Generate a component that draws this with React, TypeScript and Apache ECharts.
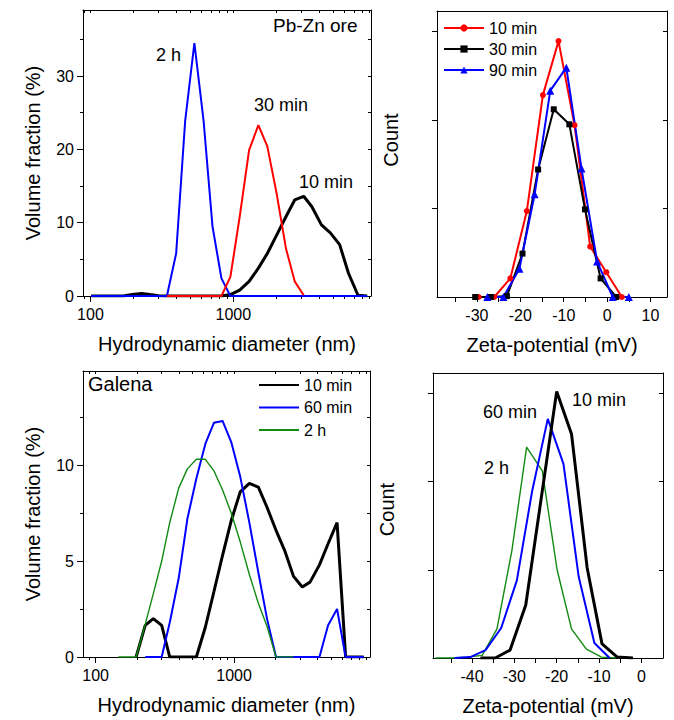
import React, { useEffect, useRef } from 'react';
import * as echarts from 'echarts';

const FONT = "'Liberation Sans', Arial, Helvetica, sans-serif";
const N = null;

// Hydrodynamic diameter bins (nm)
const diameters = [101, 126, 146, 170, 196, 228, 261, 300, 343, 398, 460, 534, 620, 715, 826, 954, 1108, 1290, 1498, 1730, 2010, 2335, 2690, 3110, 3540, 4140, 4780, 5550, 6400, 7460, 8650];

// Pb-Zn ore volume fraction (%)
const oreTenMin = [0, 0, 0, 0, 0.2, 0.35, 0.2, 0.05, 0, 0, 0, 0, 0, 0, 0, 0.2, 0.8, 2.0, 3.8, 5.8, 8.3, 10.8, 13.1, 13.6, 12.2, 9.7, 8.6, 7.0, 3.1, 0.1, 0];
const oreThirtyMin = [N, N, N, N, N, N, N, N, 0, 0, 0, 0, 0, 0, 0, 2.6, 10.8, 19.9, 23.3, 20.4, 14.0, 6.5, 2.0, 0.1, N, N, N, N, N, N, N];
const oreTwoHours = [0, 0, 0, 0, 0, 0, 0, 0, 0, 5.8, 23.8, 34.5, 23.8, 9.5, 2.4, 0, 0, 0, 0, 0, 0, 0, 0, 0, 0, 0, 0, 0, 0, 0, 0];

// Galena volume fraction (%)
const galenaTenMin = [N, N, N, N, 0, 1.65, 2.0, 1.65, 0, 0, 0, 0, 1.55, 3.4, 5.3, 7.1, 8.6, 9.05, 8.85, 7.8, 6.6, 5.5, 4.2, 3.65, 3.9, 4.8, 5.9, 7.0, 0, 0, 0];
const galenaSixtyMin = [N, N, N, N, N, 0, 0, 0, 1.8, 4.1, 7.2, 9.3, 11.1, 12.2, 12.3, 11.2, 9.4, 7.0, 4.4, 2.0, 0, 0, 0, 0, 0, 0, 1.65, 2.5, 0, 0, 0];
const galenaTwoHours = [N, N, 0, 0, 0, 1.7, 3.3, 5.0, 7.0, 8.8, 9.8, 10.3, 10.3, 9.7, 8.7, 7.5, 6.0, 4.3, 2.8, 1.6, 0, 0, 0, N, N, N, N, N, N, N, N];

// Zeta potential (mV) and counts, Pb-Zn ore
const oreZeta10x = [-29.6, -26.0, -22.3, -18.5, -14.8, -11.2, -7.5, -3.9, -0.2, 3.4];
const oreZeta10y = [0, 0, 2.1, 9.7, 22.8, 28.9, 19.4, 5.7, 2.8, 0];
const oreZeta30x = [-30.4, -26.8, -23.1, -19.5, -15.9, -12.3, -8.7, -5.1, -1.5, 2.1];
const oreZeta30y = [0, 0, 0.1, 4.9, 14.4, 21.2, 19.5, 9.9, 2.1, 0];
const oreZeta90x = [-27.6, -23.9, -20.2, -16.7, -13.1, -9.4, -5.9, -2.3, 1.3, 5.0];
const oreZeta90y = [0, 0, 3.2, 11.6, 23.3, 25.9, 14.5, 4.0, 0, 0];

// Zeta potential (mV) and counts, Galena
const galZeta10x = [-38.0, -34.5, -31.0, -27.3, -23.5, -20.0, -16.5, -12.8, -9.3, -5.7, -2.0];
const galZeta10y = [0, 0, 0.9, 6.0, 18.6, 30.2, 25.4, 10.2, 1.6, 0.1, 0];
const galZeta60x = [-44.1, -40.4, -36.8, -33.1, -29.4, -25.8, -22.1, -18.4, -14.8, -11.1, -7.5];
const galZeta60y = [0, 0.1, 0.9, 3.4, 8.8, 18.9, 27.1, 22.0, 9.2, 1.7, 0];
const galZeta2hx = [-48.6, -44.7, -41.2, -37.6, -34.1, -30.6, -27.1, -23.4, -19.9, -16.5, -13.0, -9.4, -5.9];
const galZeta2hy = [0, 0, 0.1, 0.3, 3.3, 12.1, 23.9, 21.2, 10.0, 3.3, 1.0, 0.1, 0];

// Tick values
const logMajor = [100, 1000];
const logMinor = [90, 200, 300, 400, 500, 600, 700, 800, 900, 2000, 3000, 4000, 5000, 6000, 7000, 8000, 9000];
const oreYMajor = [0, 10, 20, 30];
const oreYMinor = [5, 15, 25, 35];
const galYMajor = [0, 5, 10];
const galYMinor = [2.5, 7.5, 12.5];
const oreZetaTicks = [-35, -30, -25, -20, -15, -10, -5, 0, 5, 10];
const oreZetaLabels = [-30, -20, -10, 0, 10];
const galZetaTicks = [-45, -40, -35, -30, -25, -20, -15, -10, -5, 0];
const galZetaLabels = [-40, -30, -20, -10, 0];
const countTicks = [10, 20, 30];

const pairs = (xs: number[], ys: (number | null)[]) =>
  xs.map((x, i) => [x, ys[i]]).filter((p) => p[1] !== null);

const BLACK = '#000000';
const RED = '#ff0000';
const BLUE = '#0000ff';
const GREEN = '#108a10';

export default function App() {
  const ref = useRef<HTMLDivElement>(null);
  useEffect(() => {
    if (!ref.current) return;
    const chart = echarts.init(ref.current, null, { renderer: 'svg' });

    const line = { show: true, onZero: false, lineStyle: { color: BLACK, width: 1 } };
    const labelStyle = { color: BLACK, fontSize: 16, fontFamily: FONT };
    const nameStyle = { color: BLACK, fontSize: 20, fontFamily: FONT };

    const xAxes: any[] = [];
    const yAxes: any[] = [];

    const logX = (grid: number, min: number, max: number) => {
      const idx = xAxes.length;
      xAxes.push({
        type: 'log', gridIndex: grid, min, max, position: 'bottom',
        axisLine: line,
        axisTick: { show: true, length: 6, customValues: logMajor, lineStyle: { color: BLACK } },
        axisLabel: { show: true, customValues: logMajor, margin: 10, formatter: (v: number) => String(Math.round(v)), ...labelStyle },
        splitLine: { show: false },
        name: 'Hydrodynamic diameter (nm)', nameLocation: 'middle', nameGap: 38, nameTextStyle: nameStyle,
      });
      xAxes.push({
        type: 'log', gridIndex: grid, min, max, position: 'bottom',
        axisLine: { show: false },
        axisTick: { show: true, length: 3, customValues: logMinor, lineStyle: { color: BLACK } },
        axisLabel: { show: false }, splitLine: { show: false },
      });
      xAxes.push({
        type: 'log', gridIndex: grid, min, max, position: 'top',
        axisLine: line,
        axisTick: { show: true, inside: true, length: 3, customValues: [...logMajor, ...logMinor], lineStyle: { color: BLACK } },
        axisLabel: { show: false }, splitLine: { show: false },
      });
      return idx;
    };

    const volY = (grid: number, max: number, major: number[], minor: number[]) => {
      const idx = yAxes.length;
      yAxes.push({
        type: 'value', gridIndex: grid, min: 0, max, position: 'left',
        axisLine: line,
        axisTick: { show: true, length: 6, customValues: major, lineStyle: { color: BLACK } },
        axisLabel: { show: true, customValues: major, margin: 9, ...labelStyle },
        splitLine: { show: false },
        name: 'Volume fraction (%)', nameLocation: 'middle', nameGap: 40, nameTextStyle: nameStyle,
      });
      yAxes.push({
        type: 'value', gridIndex: grid, min: 0, max, position: 'left',
        axisLine: { show: false },
        axisTick: { show: true, length: 3, customValues: minor, lineStyle: { color: BLACK } },
        axisLabel: { show: false }, splitLine: { show: false },
      });
      yAxes.push({
        type: 'value', gridIndex: grid, min: 0, max, position: 'right',
        axisLine: line,
        axisTick: { show: true, inside: true, length: 3, customValues: [...major, ...minor], lineStyle: { color: BLACK } },
        axisLabel: { show: false }, splitLine: { show: false },
      });
      return idx;
    };

    const zetaX = (grid: number, min: number, max: number, ticks: number[], labels: number[]) => {
      const idx = xAxes.length;
      xAxes.push({
        type: 'value', gridIndex: grid, min, max, position: 'bottom',
        axisLine: line,
        axisTick: { show: true, length: 5, customValues: ticks, lineStyle: { color: BLACK } },
        axisLabel: { show: true, customValues: labels, margin: 10, ...labelStyle },
        splitLine: { show: false },
        name: 'Zeta-potential (mV)', nameLocation: 'middle', nameGap: 38, nameTextStyle: nameStyle,
      });
      xAxes.push({
        type: 'value', gridIndex: grid, min, max, position: 'top',
        axisLine: line, axisTick: { show: false }, axisLabel: { show: false }, splitLine: { show: false },
      });
      return idx;
    };

    const countY = (grid: number, shift: number) => {
      const idx = yAxes.length;
      yAxes.push({
        type: 'value', gridIndex: grid, min: 0, max: 32.3, position: 'left',
        axisLine: line,
        axisTick: { show: true, length: 5, customValues: countTicks, lineStyle: { color: BLACK } },
        axisLabel: { show: false }, splitLine: { show: false },
        name: 'Count', nameLocation: 'middle', nameGap: 36,
        nameTextStyle: { ...nameStyle, padding: [0, 0, 0, shift] },
      });
      yAxes.push({
        type: 'value', gridIndex: grid, min: 0, max: 32.3, position: 'right',
        axisLine: line,
        axisTick: { show: true, inside: true, length: 4, customValues: countTicks, lineStyle: { color: BLACK } },
        axisLabel: { show: false }, splitLine: { show: false },
      });
      return idx;
    };

    const x0 = logX(0, 88.7, 9200);
    const y0 = volY(0, 39, oreYMajor, oreYMinor);
    const x1 = zetaX(1, -39.2, 13.8, oreZetaTicks, oreZetaLabels);
    const y1 = countY(1, 28);
    const x2 = logX(2, 81, 9600);
    const y2 = volY(2, 14.9, galYMajor, galYMinor);
    const x3 = zetaX(3, -49.2, 5.1, galZetaTicks, galZetaLabels);
    const y3 = countY(3, 12);

    const ln = (name: string, xi: number, yi: number, data: any[], color: string, width: number, extra: any = {}) => ({
      type: 'line', name, xAxisIndex: xi, yAxisIndex: yi, data,
      showSymbol: false, symbol: 'none',
      lineStyle: { color, width }, itemStyle: { color },
      emphasis: { disabled: true }, silent: true,
      ...extra,
    });
    const mk = (symbol: string, size: number) => ({ symbol, symbolSize: size, showSymbol: true });

    const series = [
      ln('tl|10 min', x0, y0, pairs(diameters, oreTenMin), BLACK, 3),
      ln('tl|2 h', x0, y0, pairs(diameters, oreTwoHours), BLUE, 2),
      ln('tl|30 min', x0, y0, pairs(diameters, oreThirtyMin), RED, 2),

      ln('tr|10 min', x1, y1, pairs(oreZeta10x, oreZeta10y), RED, 2, mk('circle', 6)),
      ln('tr|30 min', x1, y1, pairs(oreZeta30x, oreZeta30y), BLACK, 2, mk('rect', 6)),
      ln('tr|90 min', x1, y1, pairs(oreZeta90x, oreZeta90y), BLUE, 2, mk('triangle', 8)),

      ln('bl|10 min', x2, y2, pairs(diameters, galenaTenMin), BLACK, 3),
      ln('bl|60 min', x2, y2, pairs(diameters, galenaSixtyMin), BLUE, 2),
      ln('bl|2 h', x2, y2, pairs(diameters, galenaTwoHours), GREEN, 1.4),

      ln('br|2 h', x3, y3, pairs(galZeta2hx, galZeta2hy), GREEN, 1.4),
      ln('br|60 min', x3, y3, pairs(galZeta60x, galZeta60y), BLUE, 2),
      ln('br|10 min', x3, y3, pairs(galZeta10x, galZeta10y), BLACK, 3),
    ];

    const legendBase = {
      orient: 'vertical', selectedMode: false, itemWidth: 40, itemHeight: 9,
      formatter: (n: string) => n.split('|')[1],
      textStyle: { color: BLACK, fontSize: 16, fontFamily: FONT, lineHeight: 16 },
      padding: 0,
    };

    const txt = (text: string, x: number, y: number, size = 18) => ({
      type: 'text', x, y, silent: true,
      style: { text, fill: BLACK, fontSize: size, fontFamily: FONT, verticalAlign: 'middle', align: 'left' },
    });

    chart.setOption({
      animation: false,
      backgroundColor: '#ffffff',
      grid: [
        { left: 83, top: 10, width: 288, height: 286 },
        { left: 437, top: 11, width: 230, height: 286 },
        { left: 83, top: 371, width: 287, height: 286 },
        { left: 433, top: 373, width: 230, height: 285 },
      ],
      xAxis: xAxes,
      yAxis: yAxes,
      legend: [
        { ...legendBase, left: 443, top: 20, itemGap: 5, data: ['tr|10 min', 'tr|30 min', 'tr|90 min'] },
        { ...legendBase, left: 258, top: 377, itemGap: 6.5, itemStyle: { opacity: 0 }, data: ['bl|10 min', 'bl|60 min', 'bl|2 h'] },
      ],
      series,
      graphic: [
        txt('Pb-Zn ore', 273, 25, 19),
        txt('2 h', 156, 55),
        txt('30 min', 254, 105),
        txt('10 min', 299, 182),
        txt('Galena', 88, 384, 20),
        txt('60 min', 483, 412),
        txt('10 min', 572, 400),
        txt('2 h', 484, 468),
      ],
    });
    return () => chart.dispose();
  }, []);

  return <div ref={ref} style={{ position: 'absolute', left: 0, top: 0, width: 674, height: 720 }} />;
}
